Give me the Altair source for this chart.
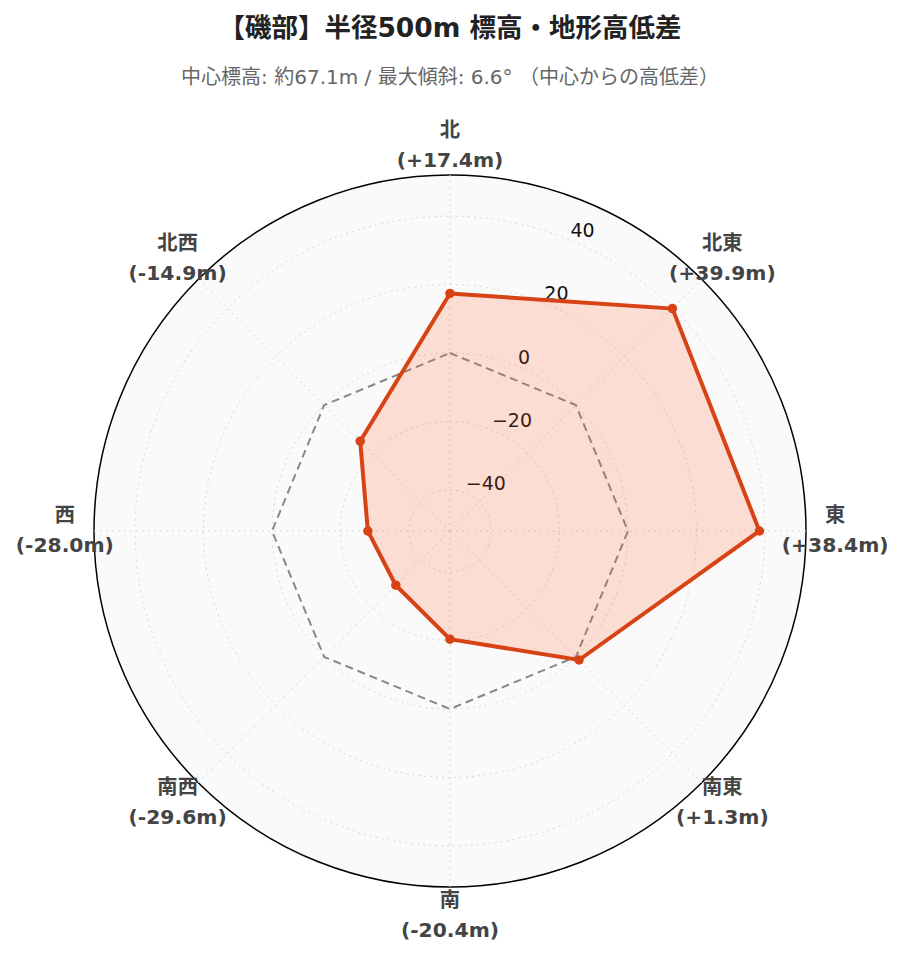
import math
import altair as alt
import pandas as pd

# ---- data ----
directions = ["北", "北東", "東", "南東", "南", "南西", "西", "北西"]
diffs = [17.4, 39.9, 38.4, 1.3, -20.4, -29.6, -28.0, -14.9]
ref_values = [0, 0, 0, 0, 0, 0, 0, 0]
tick_values = [-40, -20, 0, 20, 40]
tick_labels = ["−40", "−20", "0", "20", "40"]
r_min, r_max = -52, 52

title_text = "【磯部】半径500m 標高・地形高低差"
subtitle_text = "中心標高: 約67.1m / 最大傾斜: 6.6° （中心からの高低差）"

# ---- styling / layout ----
FONT = "DejaVu Sans, Noto Sans CJK JP"
SIZE = 712
span = r_max - r_min
label_r = span * 1.082
tick_angle = math.pi / 8
n = len(directions)


def ang(i):
    return 2 * math.pi * i / n


def polygon(values):
    rows = []
    for k in range(n + 1):
        i = k % n
        r = values[i] - r_min
        rows.append({"order": k, "x": r * math.sin(ang(i)), "y": r * math.cos(ang(i)),
                     "dir": directions[i], "v": values[i]})
    return pd.DataFrame(rows)


df_data = polygon(diffs)
df_pts = df_data.iloc[:n]
df_ref = polygon(ref_values)
df_spokes = pd.DataFrame({
    "x": [0.0] * n, "y": [0.0] * n,
    "x2": [span * math.sin(ang(i)) for i in range(n)],
    "y2": [span * math.cos(ang(i)) for i in range(n)],
})
df_grid = pd.DataFrame({"r": [t - r_min for t in tick_values]})
df_outer = pd.DataFrame({"r": [span]})
df_ticks = pd.DataFrame({
    "x": [(t - r_min) * math.sin(tick_angle) for t in tick_values],
    "y": [(t - r_min) * math.cos(tick_angle) for t in tick_values],
    "label": tick_labels,
})
df_labels = pd.DataFrame({
    "x": [label_r * math.sin(ang(i)) for i in range(n)],
    "y": [label_r * math.cos(ang(i)) for i in range(n)],
    "text": [f"{d}\n({v:+.1f}m)" for d, v in zip(directions, diffs)],
})

xs = alt.Scale(domain=[-span, span], nice=False, zero=False)
ys = alt.Scale(domain=[-span, span], nice=False, zero=False)
rs = alt.Scale(type="linear", domain=[0, span], range=[0, SIZE / 2], zero=True, nice=False)
X = lambda f="x": alt.X(f"{f}:Q", scale=xs, axis=None)
Y = lambda f="y": alt.Y(f"{f}:Q", scale=ys, axis=None)

outer = alt.Chart(df_outer).mark_arc(
    theta=0, theta2=2 * math.pi, fill="#fafafa", stroke="#000000", strokeWidth=1.5
).encode(radius=alt.Radius("r:Q", scale=rs, stack=None))

grid = alt.Chart(df_grid).mark_arc(
    theta=0, theta2=2 * math.pi, fillOpacity=0, stroke="#d6d6d6", strokeWidth=1,
    strokeDash=[2, 4]
).encode(radius=alt.Radius("r:Q", scale=rs, stack=None))

spokes = alt.Chart(df_spokes).mark_rule(
    stroke="#d6d6d6", strokeWidth=1, strokeDash=[2, 4]
).encode(x=X(), y=Y(), x2="x2:Q", y2="y2:Q")

ticks = alt.Chart(df_ticks).mark_text(
    align="left", baseline="alphabetic", dy=-3, font=FONT, fontSize=19, color="#111111"
).encode(x=X(), y=Y(), text="label:N")

ref = alt.Chart(df_ref).mark_line(
    stroke="#888888", strokeWidth=2, strokeDash=[8, 5]
).encode(x=X(), y=Y(), order="order:Q")

area = alt.Chart(df_data).mark_line(
    stroke="#d84315", strokeWidth=4, strokeJoin="miter"
).encode(x=X(), y=Y(), order="order:Q",
         fill=alt.value("#ff5722"), fillOpacity=alt.value(0.18))

pts = alt.Chart(df_pts).mark_circle(size=90, color="#d84315", opacity=1).encode(
    x=X(), y=Y())

labels = alt.Chart(df_labels).mark_text(
    align="center", baseline="middle", lineBreak="\n", lineHeight=30, dy=-15,
    font=FONT, fontSize=20.3, fontWeight="bold", color="#444444"
).encode(x=X(), y=Y(), text="text:N")

chart = alt.layer(outer, grid, spokes, ticks, ref, area, pts, labels).properties(
    width=SIZE, height=SIZE,
    autosize=alt.AutoSizeParams(type="none"),
    padding={"left": 86, "top": 167, "right": 85, "bottom": 70},
    title=alt.TitleParams(
        text=title_text, subtitle=subtitle_text, anchor="middle", frame="group",
        font=FONT, fontSize=26.5, fontWeight="bold", color="#222222",
        subtitleFont=FONT, subtitleFontSize=20, subtitleColor="#666666",
        subtitlePadding=25, offset=33,
    ),
).configure_view(stroke=None)

chart.save("out.html", embed_options={"renderer": "svg", "actions": False})
